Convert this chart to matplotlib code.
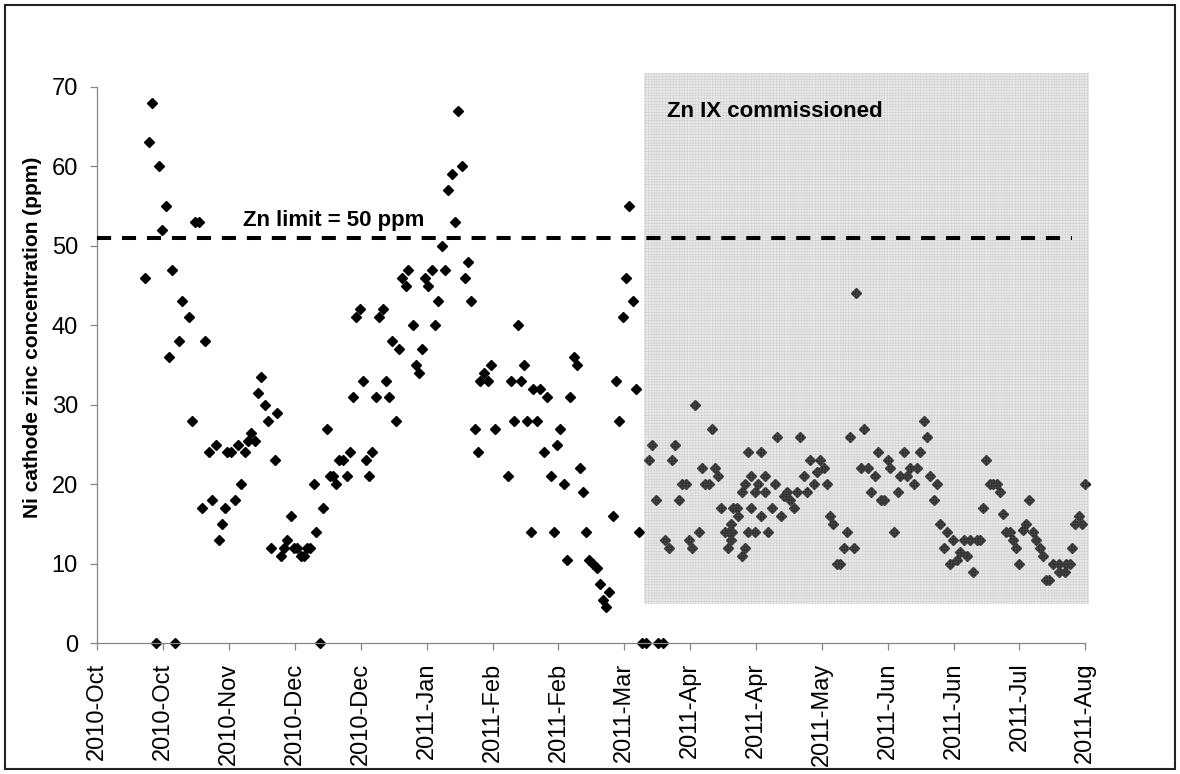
import numpy as np
import pandas as pd
import matplotlib
matplotlib.use("Agg")
import matplotlib.pyplot as plt
import matplotlib.dates as mdates
from matplotlib.patches import Rectangle

plt.rcParams['font.family'] = ['Liberation Sans', 'DejaVu Sans']
plt.rcParams['hatch.linewidth'] = 0.3

# x axis: Excel date axis, first tick 2010-10-05, one tick every 20 days
axis_start = pd.Timestamp("2010-10-05")
tick_step = 20
n_ticks = 16

# samples before the Zn IX plant (days after axis_start, ppm)
pre_days = [14.6, 15.7, 16.7, 17.7, 18.7, 19.7, 20.7, 21.7, 22.7, 23.7,
            24.7, 25.8, 27.8, 28.6, 29.8, 30.8, 31.8, 32.6, 33.8, 34.8,
            35.9, 36.9, 37.7, 38.9, 39.5, 40.7, 41.9, 42.7, 43.7, 44.7,
            45.8, 46.8, 47.8, 48.8, 49.6, 50.8, 51.8, 52.6, 53.8, 54.6,
            55.7, 56.7, 57.7, 58.7, 59.7, 60.7, 61.7, 62.7, 63.7, 64.7,
            65.8, 66.5, 67.6,
            68.6, 69.6, 70.5, 71.5, 72.6, 73.4, 74.5, 75.7, 76.7, 77.6,
            78.6, 79.6, 80.6, 81.5, 82.6, 83.5, 84.6, 85.6, 86.6, 87.6,
            88.6, 89.6, 90.6, 91.6, 92.6, 93.6, 94.4, 95.7, 96.7, 97.6,
            98.7, 99.5, 100.5, 101.5, 102.5, 103.5, 104.6, 105.6, 106.6, 107.6,
            108.6, 109.6, 110.6, 111.6, 112.6, 113.6, 114.7, 115.7, 116.3, 117.5,
            118.7, 119.5, 120.7, 124.6, 125.6, 126.6, 127.6, 128.6, 129.6, 130.6,
            131.6, 132.4, 133.6, 134.5, 135.7, 136.5, 137.6, 138.6, 139.6, 140.6,
            141.6, 142.5, 143.5, 144.6, 145.6, 146.6, 147.6, 148.5, 149.3,
            150.5, 151.6, 152.5, 153.5, 154.5, 155.5, 156.5, 157.5, 158.5, 159.5,
            160.5, 161.5, 162.5, 163.5, 164.5, 165.3, 166.7, 170.3, 171.7]
pre_zn = [46, 63, 68, 0, 60, 52, 55, 36, 47, 0,
          38, 43, 41, 28, 53, 53, 17, 38, 24, 18,
          25, 13, 15, 17, 24, 24, 18, 25, 20, 24,
          25.5, 26.5, 25.5, 31.5, 33.5, 30, 28, 12, 23, 29,
          11, 12, 13, 16, 12, 12, 11, 11, 12, 12,
          20, 14, 0,
          17, 27, 21, 21, 20, 23, 23, 21, 24, 31,
          41, 42, 33, 23, 21, 24, 31, 41, 42, 33,
          31, 38, 28, 37, 46, 45, 47, 40, 35, 34,
          37, 46, 45, 47, 40, 43, 50, 47, 57, 59,
          53, 67, 60, 46, 48, 43, 27, 24, 33, 34,
          33, 35, 27, 21, 33, 28, 40, 33, 35, 28,
          14, 32, 28, 32, 24, 31, 21, 14, 25, 27,
          20, 10.5, 31, 36, 35, 22, 19, 14, 10.5,
          10, 9.5, 7.5, 5.5, 4.5, 6.5, 16, 33, 28, 41,
          46, 55, 43, 32, 14, 0, 0, 0, 0]

# samples after commissioning
post_days = [167.5, 168.5, 169.5, 172.5, 173.5, 174.5, 175.5, 176.5, 177.6, 178.6,
             179.6, 180.6, 181.5, 182.6, 183.6, 184.6, 185.7, 186.6, 187.5, 188.5,
             189.5, 190.7, 191.5, 191.7, 192.5, 192.5, 192.7, 193.1, 194.3, 194.6,
             195.6, 195.6, 196.6, 196.6, 197.6, 197.6, 198.6, 198.6, 199.6, 199.6,
             200.6, 201.6, 201.6, 202.6, 202.6, 203.6, 204.7, 205.7, 206.5, 207.5,
             208.4, 209.4, 210.4, 211.4, 212.4, 213.4, 214.5, 215.5, 216.5, 217.5,
             218.5, 219.5, 220.5, 221.5, 222.5, 223.5, 224.6, 225.6, 226.6, 227.6,
             228.6, 229.6, 230.5,
             231.9, 232.9, 233.9, 235, 236, 237, 238, 239, 240, 240.8,
             242, 243, 243.8, 245, 245.8, 246.8, 247.9, 248.8, 249.9, 250.9,
             251.9, 252.9, 254, 254.9, 255.9, 257, 257.9, 258.9, 259.9, 260.9,
             261.9, 263, 264, 265, 266, 267, 268, 268.9, 269.9, 270.9,
             272.1, 273.1, 274.1, 274.9, 275.9, 277.1, 277.9, 279, 280, 281,
             282, 283, 284, 285, 286.1, 287.1, 288.1, 288.9, 290.1, 292.1,
             292.1, 293.8, 294.2, 295.2, 296, 297, 298, 299, 300]
post_zn = [23, 25, 18, 13, 12, 23, 25, 18, 20, 20,
           13, 12, 30, 14, 22, 20, 20, 27, 22, 21,
           17, 14, 12, 14, 15, 13, 14, 17, 17, 16,
           11, 19, 12, 20, 24, 14, 21, 17, 19, 14,
           20, 24, 16, 21, 19, 14, 17, 20, 26, 16,
           18.5, 19, 18, 17, 19, 26, 21, 19, 23, 20,
           21.5, 23, 22, 20, 16, 15, 10, 10, 12, 14,
           26, 12, 44,
           22, 27, 22, 19, 21, 24, 18, 18, 23, 22,
           14, 19, 21, 24, 21, 22, 20, 22, 24, 28,
           26, 21, 18, 20, 15, 12, 14, 10, 13, 10.5,
           11.5, 13, 11, 13, 9, 13, 13, 17, 23, 20,
           20, 20, 19, 16.3, 14, 14, 13, 12, 10, 14.3,
           15, 18, 14, 13, 12, 11, 8, 8, 10, 10,
           9, 9, 10, 10, 12, 15, 16, 15, 20]

zn_limit_line = 51          # dashed line is drawn a touch above 50
ix_start_day = 166.0        # start of the shaded "commissioned" block


def to_date(d):
    return (axis_start + pd.to_timedelta(np.asarray(d, dtype=float), unit="D")).to_numpy()


fig = plt.figure(figsize=(11.8, 7.74), dpi=100)
ax = fig.add_axes([0.0825, 0.1689, 0.8373, 0.7190])

days_all = pre_days + post_days
zn_all = pre_zn + post_zn
ax.plot(to_date(days_all), zn_all, linestyle="none", marker="D", ms=5,
        color="black", clip_on=False, zorder=2)

x0 = mdates.date2num(axis_start + pd.Timedelta(days=ix_start_day))
x1 = mdates.date2num(axis_start + pd.Timedelta(days=301.2))
shade = Rectangle((x0, 5.0), x1 - x0, 66.7, facecolor=(0.7, 0.7, 0.7),
                  alpha=0.28, edgecolor="none", clip_on=False, zorder=3)
ax.add_patch(shade)
grid = Rectangle((x0, 5.0), x1 - x0, 66.7, facecolor="none",
                 edgecolor=(0.55, 0.55, 0.55, 0.35), linewidth=0,
                 hatch="++++++", clip_on=False, zorder=3)
ax.add_patch(grid)

ax.axhline(zn_limit_line, xmin=0, xmax=296 / 300, color="black", lw=2.9,
           linestyle=(0, (3.5, 2.7)), zorder=4)

ax.text(to_date([44.3])[0], 52.5, "Zn limit = 50 ppm", fontsize=16,
        fontweight="bold", ha="left", va="baseline", zorder=5)
ax.text(to_date([173.1])[0], 66.2, "Zn IX commissioned", fontsize=16,
        fontweight="bold", ha="left", va="baseline", zorder=5)

ax.set_xlim(to_date([0])[0], to_date([300])[0])
ax.set_ylim(0, 70)
ax.set_yticks(range(0, 71, 10))
ax.set_xticks(to_date(np.arange(n_ticks) * tick_step))
ax.xaxis.set_major_formatter(mdates.DateFormatter("%Y-%b"))

for side in ["top", "right"]:
    ax.spines[side].set_visible(False)
for side in ["left", "bottom"]:
    ax.spines[side].set_color("#868686")
    ax.spines[side].set_linewidth(0.9)
ax.tick_params(direction="out", length=5, width=0.9, color="#868686",
               labelsize=17, pad=9)
ax.tick_params(axis="x", labelrotation=90)

ax.text(-0.066, 0.549, "Ni cathode zinc concentration (ppm)", transform=ax.transAxes,
        rotation=90, ha="center", va="center", fontsize=15, fontweight="bold")

fig.patches.append(Rectangle((5 / 1180, 5 / 774), 1 - 10 / 1180, 1 - 10 / 774,
                             transform=fig.transFigure, fill=False,
                             lw=1.5, edgecolor="#222222"))

fig.savefig("out.png", dpi=100)
